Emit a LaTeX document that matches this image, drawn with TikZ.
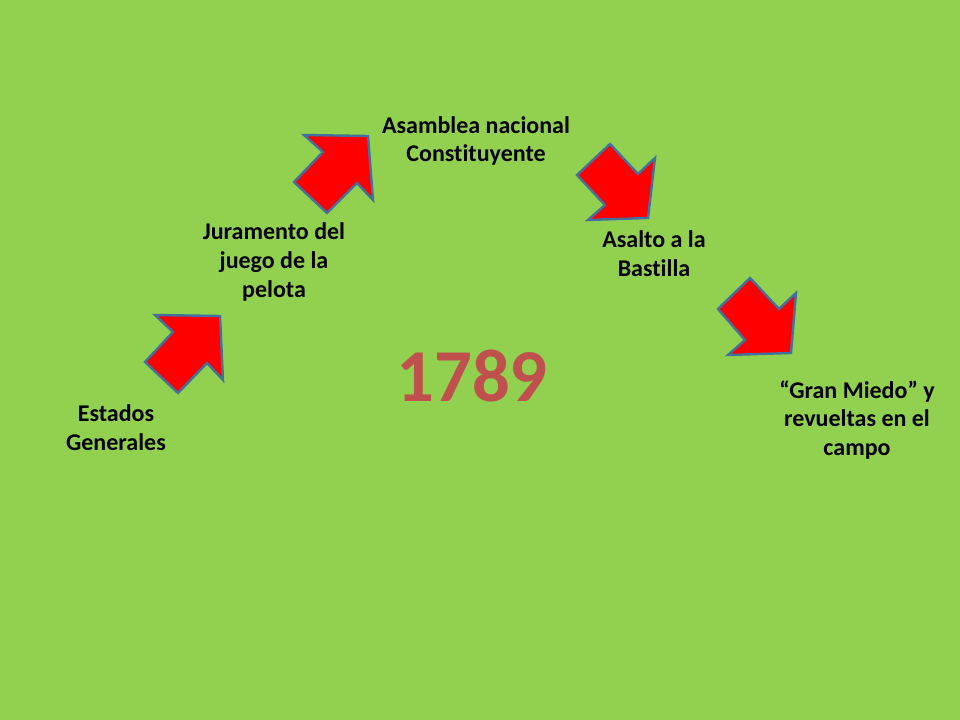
\documentclass[tikz,border=0pt]{standalone}
\usepackage{fontspec}
\setmainfont{Carlito}[Ligatures={NoCommon}]
\definecolor{bggreen}{HTML}{92D050}
\definecolor{arrowred}{HTML}{FF0000}
\definecolor{arrowedge}{HTML}{41719C}
\definecolor{yearred}{HTML}{C0504D}
\begin{document}
\begin{tikzpicture}[x=0.75pt,y=-0.75pt,
  blockarrow/.style={fill=arrowred,draw=arrowedge,line width=1.8pt,line join=miter},
  lbl/.style={align=center,inner sep=0pt,text=black,font=\fontsize{18}{21.6}\selectfont\bfseries},
  year/.style={inner sep=0pt,text=yearred,font=\fontsize{56}{67}\selectfont\bfseries}]
\useasboundingbox (0,0) rectangle (960,720);
\fill[bggreen] (0,0) rectangle (960,720);
% arrows
\draw[blockarrow] (155,315) -- (220,316) -- (223,380) -- (207,363) -- (178,393) -- (145,362) -- (173,332) -- cycle;
\draw[blockarrow] (304,135) -- (368,136) -- (373,200) -- (357,183) -- (327,213) -- (294,182) -- (323,152) -- cycle;
\draw[blockarrow] (610,144) -- (638,174) -- (655,158) -- (648,218) -- (588,220) -- (605,205) -- (577,175) -- cycle;
\draw[blockarrow] (750,278) -- (779,309) -- (796,293) -- (791,353) -- (728,355) -- (745,340) -- (718,309) -- cycle;
% labels
\node[lbl] (asamblea) at (476,141) {Asamblea nacional\\Constituyente};
\node[lbl] (juramento) at (274,262) {Juramento del\\juego de la\\pelota};
\node[lbl] (estados) at (116,428) {Estados\\Generales};
\node[lbl] (asalto) at (654,254) {Asalto a la\\Bastilla};
\node[lbl] (miedo) at (857,420) {“Gran Miedo” y\\revueltas en el\\campo};
\node[year] (anio) at (472,376) {1789};
\end{tikzpicture}
\end{document}
